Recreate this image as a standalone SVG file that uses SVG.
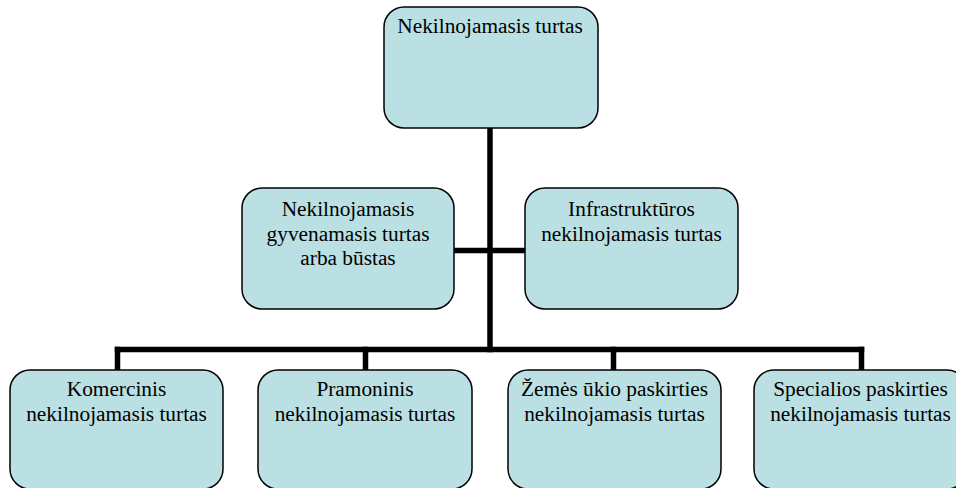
<svg xmlns="http://www.w3.org/2000/svg" width="956" height="488" viewBox="0 0 956 488">
<style>
.box{fill:#BBE0E3;stroke:#000;stroke-width:1.5}
.t{font-family:"Liberation Serif","Times New Roman",serif;font-size:21.33px;fill:#000;text-anchor:middle}
.c{stroke:#000;stroke-width:5.5;fill:none;stroke-linecap:square}
</style>
<rect width="956" height="488" fill="#fff"/>
<g id="connectors">
<line class="c" x1="490" y1="129" x2="490" y2="349.5"/>
<line class="c" x1="455" y1="250.5" x2="525" y2="250.5"/>
<line class="c" x1="117.5" y1="349.5" x2="861.5" y2="349.5"/>
<line class="c" x1="117.5" y1="349.5" x2="117.5" y2="369"/>
<line class="c" x1="365.5" y1="349.5" x2="365.5" y2="369"/>
<line class="c" x1="613.5" y1="349.5" x2="613.5" y2="369"/>
<line class="c" x1="861.5" y1="349.5" x2="861.5" y2="369"/>
</g>
<g id="n-root">
<rect class="box" x="384" y="7" width="214" height="121" rx="20"/>
<text class="t" x="490" y="33">Nekilnojamasis turtas</text>
</g>
<g id="n-gyv">
<rect class="box" x="242" y="188" width="212" height="121" rx="20"/>
<text class="t" x="348" y="216">Nekilnojamasis</text>
<text class="t" x="348" y="240.5">gyvenamasis turtas</text>
<text class="t" x="348" y="265">arba būstas</text>
</g>
<g id="n-infra">
<rect class="box" x="525" y="188" width="213" height="121" rx="20"/>
<text class="t" x="631.5" y="216">Infrastruktūros</text>
<text class="t" x="631.5" y="240.5">nekilnojamasis turtas</text>
</g>
<g id="n-kom">
<rect class="box" x="10" y="370" width="213" height="119" rx="20"/>
<text class="t" x="116.5" y="396">Komercinis</text>
<text class="t" x="116.5" y="420.5">nekilnojamasis turtas</text>
</g>
<g id="n-pram">
<rect class="box" x="258" y="370" width="214" height="119" rx="20"/>
<text class="t" x="365" y="396">Pramoninis</text>
<text class="t" x="365" y="420.5">nekilnojamasis turtas</text>
</g>
<g id="n-zem">
<rect class="box" x="508" y="370" width="213" height="119" rx="20"/>
<text class="t" x="614.5" y="396">Žemės ūkio paskirties</text>
<text class="t" x="614.5" y="420.5">nekilnojamasis turtas</text>
</g>
<g id="n-spec">
<rect class="box" x="754" y="370" width="213" height="119" rx="20"/>
<text class="t" x="860.5" y="396">Specialios paskirties</text>
<text class="t" x="860.5" y="420.5">nekilnojamasis turtas</text>
</g>
</svg>
